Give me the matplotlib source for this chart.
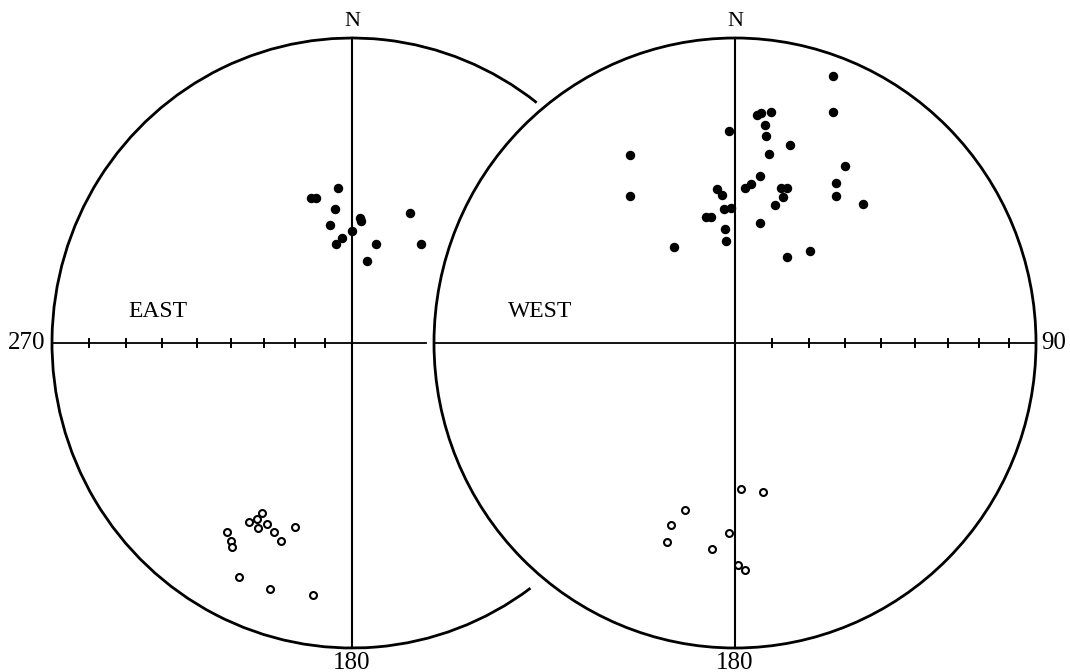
import numpy as np
import matplotlib
matplotlib.use("Agg")
import matplotlib.pyplot as plt
from matplotlib.patches import Arc, Ellipse

plt.rcParams['font.family'] = ['Liberation Serif', 'DejaVu Serif']

# Projected directions, in percent of the primitive radius (x = east, y = north)
east_normal_x = [-13.8, -12.1, -4.8, -5.7, 2.7, 2.9, -7.2, 0.1, -3.2, -5.2, 7.9, 5.1, 19.3, 22.9]
east_normal_y = [47.5, 47.6, 50.9, 43.9, 40.9, 40.0, 38.8, 36.7, 34.4, 32.6, 32.5, 26.9, 42.7, 32.4]

east_reversed_x = [-30.1, -31.6, -34.3, -31.4, -28.4, -26.1, -23.8, -19.0, -41.8, -40.4, -39.9, -37.7, -27.4, -13.1]
east_reversed_y = [-55.8, -57.6, -58.6, -60.7, -59.4, -62.0, -64.8, -60.2, -62.1, -64.8, -66.8, -76.8, -80.8, -82.5]

west_normal_x = [-34.9, -34.8, -20.2, -6.1, -4.4, -3.6, -1.3, -9.6, -8.1, -3.3, -3.0, -2.0,
                 3.3, 5.3, 32.7, 32.7, 7.2, 8.6, 12.1, 10.0, 10.3, 18.4, 11.3, 36.5,
                 8.2, 33.6, 33.7, 42.5, 15.2, 17.2, 15.8, 13.3, 8.2, 17.2, 25.0]
west_normal_y = [61.6, 48.2, 31.6, 50.4, 48.4, 43.8, 44.3, 41.2, 41.4, 37.3, 33.4, 69.5,
                 50.8, 52.1, 87.5, 75.8, 74.8, 75.3, 75.7, 71.6, 67.9, 64.9, 62.0, 57.9,
                 54.9, 52.6, 48.3, 45.7, 50.8, 50.8, 48.0, 45.2, 39.2, 28.3, 30.1]

west_reversed_x = [2.0, 9.2, -16.7, -21.3, -22.7, -7.6, -2.0, 0.9, 3.3]
west_reversed_y = [-47.9, -48.9, -54.8, -59.7, -65.1, -67.5, -62.2, -72.8, -74.4]

# Equal-area scale marks along the E-W diameter, every 10 degrees
tick_angles = np.arange(10, 90, 10)
tick_r = 100 * np.sqrt(2) * np.sin(np.radians(tick_angles) / 2)

W, H = 1070, 672
fig = plt.figure(figsize=(W / 100, H / 100), dpi=100)


def net_axes(cx, cy, rx, ry):
    ax = fig.add_axes([(cx - rx) / W, (H - cy - ry) / H, 2 * rx / W, 2 * ry / H])
    ax.set_xlim(-100, 100)
    ax.set_ylim(-100, 100)
    ax.axis('off')
    return ax


LW_CIRCLE = 2.0
LW_VERT = 1.5
LW_HORIZ = 1.3
TICK = 1.4
DOT_MS = 5.8
OPEN_MS = 5.0

# ---- left net (EAST) ----
axl = net_axes(352, 343, 300, 305)
axl.add_patch(Arc((0, 0), 200, 200, theta1=52, theta2=306.5,
                  lw=LW_CIRCLE, color='black', clip_on=False))
axl.plot([0, 0], [-100, 100], color='black', lw=LW_VERT, clip_on=False)
axl.plot([-100, 24.6], [0, 0], color='black', lw=LW_HORIZ, clip_on=False)
for t in -100 + tick_r:
    axl.plot([t, t], [-TICK, TICK], color='black', lw=1.4, clip_on=False)
axl.plot(east_normal_x, east_normal_y, 'o', ms=DOT_MS, color='black', clip_on=False)
axl.plot(east_reversed_x, east_reversed_y, 'o', ms=OPEN_MS, mfc='white', mec='black',
         mew=1.5, clip_on=False)
axl.text(0, 105.5, 'N', ha='center', va='center', fontsize=16)
axl.text(-102.3, 0, '270', ha='right', va='center', fontsize=18)
axl.text(0, -104.8, '180', ha='center', va='center', fontsize=18)
axl.text(-64.7, 10.4, 'EAST', ha='center', va='center', fontsize=17)

# ---- right net (WEST) ----
axr = net_axes(735, 343, 301, 305)
axr.add_patch(Ellipse((0, 0), 200, 200, fill=False, lw=LW_CIRCLE,
                      edgecolor='black', clip_on=False))
axr.plot([0, 0], [-100, 100], color='black', lw=LW_VERT, clip_on=False)
axr.plot([-100, 100], [0, 0], color='black', lw=LW_HORIZ, clip_on=False)
for t in tick_r:
    axr.plot([t, t], [-TICK, TICK], color='black', lw=1.4, clip_on=False)
axr.plot(west_normal_x, west_normal_y, 'o', ms=DOT_MS, color='black', clip_on=False)
axr.plot(west_reversed_x, west_reversed_y, 'o', ms=OPEN_MS, mfc='white', mec='black',
         mew=1.5, clip_on=False)
axr.text(0, 105.5, 'N', ha='center', va='center', fontsize=16)
axr.text(101.8, 0, '90', ha='left', va='center', fontsize=18)
axr.text(0, -104.8, '180', ha='center', va='center', fontsize=18)
axr.text(-64.8, 10.4, 'WEST', ha='center', va='center', fontsize=17)

fig.savefig('out.png', dpi=100)
